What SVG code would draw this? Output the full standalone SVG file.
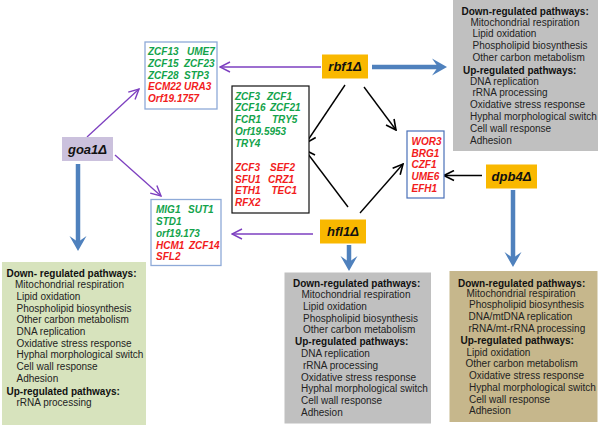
<svg xmlns="http://www.w3.org/2000/svg" width="600" height="426" viewBox="0 0 600 426">
<style>
text{font-family:"Liberation Sans",Arial,sans-serif}
.g{font-size:10px;font-weight:bold;font-style:italic;fill:#13a34b}
.r{font-size:10px;font-weight:bold;font-style:italic;fill:#f21c1c}
.nd{font-size:13px;font-weight:bold;font-style:italic;fill:#111;text-anchor:middle}
.p{font-size:10px;fill:#222}
.h{font-size:10px;font-weight:bold;fill:#111}
.pu{stroke:#7d3fc0;stroke-width:1.3;fill:none}
.bk{stroke:#000;stroke-width:1.4;fill:none}
.bl{stroke:#4f81bd;stroke-width:4.5;fill:none}
.blh{fill:#4f81bd}
</style>
<defs>
<marker id="mp" viewBox="0 0 12 12" refX="11" refY="6" markerWidth="12" markerHeight="12" markerUnits="userSpaceOnUse" orient="auto"><path d="M1,1 L11,6 L1,11" fill="none" stroke="#7d3fc0" stroke-width="1.4"/></marker>
<marker id="mk" viewBox="0 0 12 12" refX="11" refY="6" markerWidth="12" markerHeight="12" markerUnits="userSpaceOnUse" orient="auto"><path d="M1,1 L11,6 L1,11" fill="none" stroke="#000" stroke-width="1.6"/></marker>
</defs>
<rect width="600" height="426" fill="#fff"/>

<g id="connectors">
<line class="pu" x1="321" y1="67" x2="220" y2="67" marker-end="url(#mp)"/>
<line class="pu" x1="87" y1="137" x2="139" y2="89" marker-end="url(#mp)"/>
<line class="pu" x1="115" y1="155" x2="161" y2="196" marker-end="url(#mp)"/>
<line class="pu" x1="313" y1="234" x2="232" y2="234" marker-end="url(#mp)"/>
<line class="bk" x1="345" y1="85" x2="306" y2="143" marker-end="url(#mk)"/>
<line class="bk" x1="364" y1="87" x2="396" y2="130" marker-end="url(#mk)"/>
<line class="bk" x1="348" y1="207" x2="305" y2="150" marker-end="url(#mk)"/>
<line class="bk" x1="360" y1="213" x2="403" y2="164" marker-end="url(#mk)"/>
<line class="bk" x1="482" y1="175.5" x2="444" y2="175.5" marker-end="url(#mk)"/>
<line class="bl" x1="78" y1="164" x2="78" y2="244"/>
<path class="blh" d="M78,251 L69.5,236 L78,242 L86.5,236 Z"/>
<line class="bl" x1="372" y1="67" x2="440" y2="67"/>
<path class="blh" d="M447,67 L432,58.5 L438,67 L432,75.5 Z"/>
<line class="bl" x1="349" y1="245" x2="349" y2="264"/>
<path class="blh" d="M349,271 L340.5,256 L349,262 L357.5,256 Z"/>
<line class="bl" x1="513" y1="190" x2="513" y2="260"/>
<path class="blh" d="M513,267 L504.5,252 L513,258 L521.5,252 Z"/>
</g>

<g id="goa1">
<rect x="62" y="137" width="51" height="24" fill="#cbc1dd"/>
<text class="nd" x="87.5" y="153.5">goa1Δ</text>
</g>
<g id="rbf1">
<rect x="322" y="54.5" width="46" height="24" fill="#f9b800"/>
<text class="nd" x="345" y="71">rbf1Δ</text>
</g>
<g id="hfl1">
<rect x="320" y="219.5" width="46" height="24" fill="#f9b800"/>
<text class="nd" x="343" y="236">hfl1Δ</text>
</g>
<g id="dpb4">
<rect x="486" y="164.5" width="51" height="24" fill="#f9b800"/>
<text class="nd" x="511.5" y="181">dpb4Δ</text>
</g>

<g id="genes-top">
<rect x="145" y="42" width="72" height="67" fill="#fff" stroke="#8eaad8" stroke-width="1.3"/>
<text class="g" x="148" y="55">ZCF13</text><text class="g" x="187" y="55">UME7</text>
<text class="g" x="148" y="67">ZCF15</text><text class="g" x="184" y="67">ZCF23</text>
<text class="g" x="148" y="78.5">ZCF28</text><text class="g" x="184" y="78.5">STP3</text>
<text class="r" x="148" y="90">ECM22</text><text class="r" x="184" y="90">URA3</text>
<text class="r" x="148" y="102">Orf19.1757</text>
</g>

<g id="genes-middle">
<rect x="232" y="86" width="77" height="127" fill="#fff" stroke="#111" stroke-width="1.2"/>
<text class="g" x="235" y="99.5">ZCF3</text><text class="g" x="267" y="99.5">ZCF1</text>
<text class="g" x="235" y="111">ZCF16</text><text class="g" x="270" y="111">ZCF21</text>
<text class="g" x="235" y="123">FCR1</text><text class="g" x="272" y="123">TRY5</text>
<text class="g" x="235" y="135">Orf19.5953</text>
<text class="g" x="235" y="146.5">TRY4</text>
<text class="r" x="235" y="170.5">ZCF3</text><text class="r" x="270" y="170.5">SEF2</text>
<text class="r" x="235" y="182.5">SFU1</text><text class="r" x="268" y="182.5">CRZ1</text>
<text class="r" x="235" y="194">ETH1</text><text class="r" x="271.5" y="194">TEC1</text>
<text class="r" x="235" y="206">RFX2</text>
</g>

<g id="genes-bottom">
<rect x="151" y="199.5" width="70" height="66" fill="#fff" stroke="#8eaad8" stroke-width="1.3"/>
<text class="g" x="156" y="213">MIG1</text><text class="g" x="188" y="213">SUT1</text>
<text class="g" x="156" y="224.5">STD1</text>
<text class="g" x="156" y="236.5">orf19.173</text>
<text class="r" x="156" y="248.5">HCM1</text><text class="r" x="189" y="248.5">ZCF14</text>
<text class="r" x="156" y="260">SFL2</text>
</g>

<g id="genes-right">
<rect x="407" y="131" width="37" height="67" fill="#fff" stroke="#4a70b8" stroke-width="1.2"/>
<text class="r" x="411.5" y="144.5">WOR3</text>
<text class="r" x="411.5" y="156.5">BRG1</text>
<text class="r" x="411.5" y="168">CZF1</text>
<text class="r" x="411.5" y="180">UME6</text>
<text class="r" x="411.5" y="192">EFH1</text>
</g>

<g id="rbf1-pathways">
<rect x="453" y="0" width="145" height="151" fill="#c0c0c0"/>
<text class="h" x="461.5" y="14.5">Down-regulated pathways:</text>
<text class="p" x="470.5" y="26">Mitochondrial respiration</text>
<text class="p" x="472.5" y="37">Lipid oxidation</text>
<text class="p" x="472.5" y="49">Phospholipid biosynthesis</text>
<text class="p" x="472.5" y="61">Other carbon metabolism</text>
<text class="h" x="463" y="73.5">Up-regulated pathways:</text>
<text class="p" x="470" y="84.5">DNA replication</text>
<text class="p" x="472.5" y="96">rRNA processing</text>
<text class="p" x="470" y="108">Oxidative stress response</text>
<text class="p" x="470" y="120">Hyphal morphological switch</text>
<text class="p" x="470" y="132">Cell wall response</text>
<text class="p" x="470" y="143.5">Adhesion</text>
</g>

<g id="goa1-pathways">
<rect x="2" y="262" width="144" height="163" fill="#d7e3bd"/>
<text class="h" x="6.5" y="276.5">Down- regulated pathways:</text>
<text class="p" x="15" y="287.5">Mitochondrial respiration</text>
<text class="p" x="16.5" y="299.5">Lipid oxidation</text>
<text class="p" x="16.5" y="311.5">Phospholipid biosynthesis</text>
<text class="p" x="16.5" y="323">Other carbon metabolism</text>
<text class="p" x="16.5" y="334.5">DNA replication</text>
<text class="p" x="16.5" y="346.5">Oxidative stress response</text>
<text class="p" x="16.5" y="358">Hyphal morphological switch</text>
<text class="p" x="16.5" y="370">Cell wall response</text>
<text class="p" x="16.5" y="382">Adhesion</text>
<text class="h" x="6.5" y="394.5">Up-regulated pathways:</text>
<text class="p" x="16.5" y="406">rRNA processing</text>
</g>

<g id="hfl1-pathways">
<rect x="284.5" y="272.5" width="146.5" height="151" fill="#c0c0c0"/>
<text class="h" x="293" y="286.5">Down-regulated pathways:</text>
<text class="p" x="301.5" y="297.5">Mitochondrial respiration</text>
<text class="p" x="303" y="309.5">Lipid oxidation</text>
<text class="p" x="303" y="321.5">Phospholipid biosynthesis</text>
<text class="p" x="303" y="333">Other carbon metabolism</text>
<text class="h" x="295" y="345">Up-regulated pathways:</text>
<text class="p" x="301" y="356.5">DNA replication</text>
<text class="p" x="303" y="368.5">rRNA  processing</text>
<text class="p" x="301" y="380.5">Oxidative stress response</text>
<text class="p" x="301" y="392">Hyphal morphological switch</text>
<text class="p" x="301" y="403.5">Cell wall response</text>
<text class="p" x="301" y="416">Adhesion</text>
</g>

<g id="dpb4-pathways">
<rect x="449.5" y="271" width="148" height="151" fill="#c6b78c"/>
<text class="h" x="458" y="286.5">Down-regulated pathways:</text>
<text class="p" x="466.5" y="296.5">Mitochondrial respiration</text>
<text class="p" x="469" y="308">Phospholipid biosynthesis</text>
<text class="p" x="468.5" y="319.5">DNA/mtDNA replication</text>
<text class="p" x="468.5" y="332">rRNA/mt-rRNA processing</text>
<text class="h" x="460.5" y="343.5">Up-regulated pathways:</text>
<text class="p" x="466.5" y="355.5">Lipid oxidation</text>
<text class="p" x="465.5" y="367">Other carbon metabolism</text>
<text class="p" x="469" y="378.5">Oxidative stress response</text>
<text class="p" x="469" y="390.5">Hyphal morphological switch</text>
<text class="p" x="469" y="402.5">Cell wall response</text>
<text class="p" x="469" y="414">Adhesion</text>
</g>
</svg>
